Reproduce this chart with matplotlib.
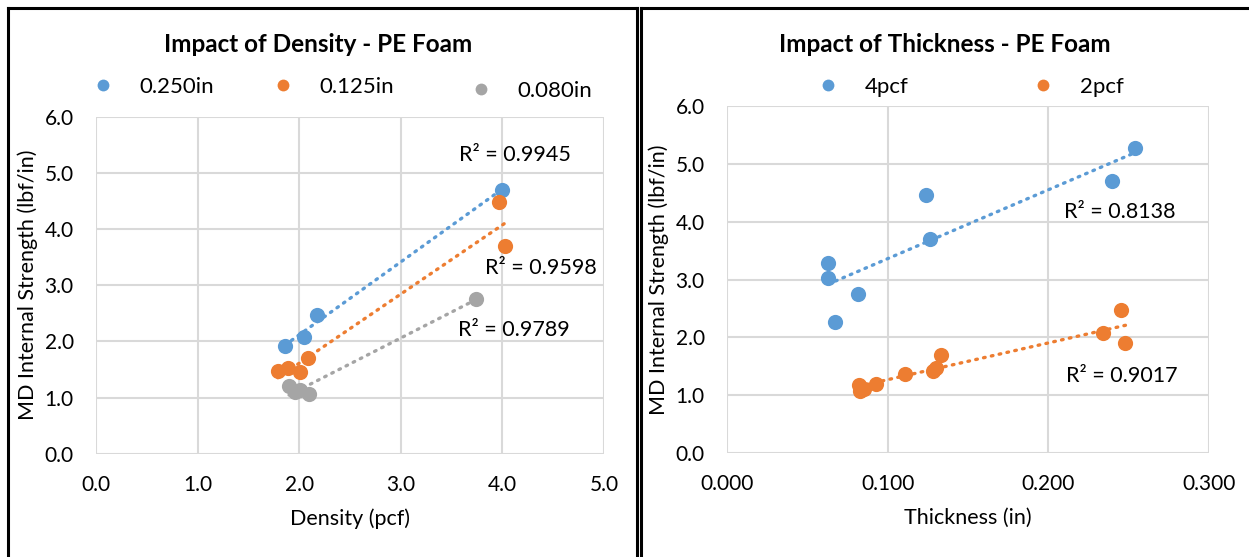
import numpy as np
import matplotlib.pyplot as plt
from matplotlib.lines import Line2D

plt.rcParams['font.family'] = ['Lato', 'DejaVu Sans']

BLUE = '#5B9BD5'
ORANGE = '#ED7D31'
GRAY = '#A5A5A5'

# left chart: density vs MD internal strength
dens_250 = [1.86, 2.05, 2.18, 4.00]
str_250 = [1.92, 2.08, 2.47, 4.70]
dens_125 = [1.79, 1.89, 2.01, 2.09, 3.97, 4.03]
str_125 = [1.47, 1.52, 1.45, 1.70, 4.47, 3.70]
dens_080 = [1.90, 1.96, 2.01, 2.10, 3.74]
str_080 = [1.20, 1.10, 1.13, 1.07, 2.76]
r2_left = ['R² = 0.9945', 'R² = 0.9598', 'R² = 0.9789']

# right chart: thickness vs MD internal strength
thk_4 = [0.063, 0.063, 0.067, 0.0815, 0.124, 0.1265, 0.2395, 0.254]
str_4 = [3.29, 3.03, 2.27, 2.76, 4.47, 3.71, 4.71, 5.27]
thk_2 = [0.082, 0.083, 0.085, 0.093, 0.111, 0.128, 0.130, 0.133, 0.234, 0.245, 0.248]
str_2 = [1.18, 1.07, 1.10, 1.20, 1.36, 1.42, 1.47, 1.70, 2.08, 2.47, 1.91]
r2_right = ['R² = 0.8138', 'R² = 0.9017']

W, H = 1249, 557
FS = 15.5
fig = plt.figure(figsize=(W / 100, H / 100), dpi=100)


def box(x0, x1, y0, y1):
    return [x0 / W, 1 - y1 / H, (x1 - x0) / W, (y1 - y0) / H]


def trend(ax, x, y, color):
    k, b = np.polyfit(x, y, 1)
    xs = np.array([min(x), max(x)])
    ax.plot(xs, k * xs + b, color=color, lw=2.4, linestyle=(0, (0.5, 1.9)),
            dash_capstyle='round', zorder=2)


def style(ax):
    ax.grid(True, color='#d9d9d9', lw=1.5)
    ax.set_axisbelow(True)
    for s in ax.spines.values():
        s.set_visible(False)
    ax.tick_params(length=0, labelsize=15)
    ax.tick_params(axis='x', pad=15)
    ax.tick_params(axis='y', pad=16)


def legend_item(color, label, xm, ym):
    # one legend entry, marker centred at pixel (xm, ym)
    h = Line2D([], [], marker='o', ls='', ms=8.5, color=color, mew=0)
    fs_px = 16 * 100 / 72
    fig.legend([h], [label], frameon=False, loc='center left', fontsize=16,
               bbox_to_anchor=((xm - 0.4 * fs_px) / W, 1 - ym / H),
               borderpad=0, borderaxespad=0, handlelength=0.8,
               handletextpad=1.25)


axL = fig.add_axes(box(96, 604, 116.5, 453.7))
axR = fig.add_axes(box(727, 1209, 106.3, 453))

for x, y, c in [(dens_250, str_250, BLUE),
                (dens_125, str_125, ORANGE),
                (dens_080, str_080, GRAY)]:
    trend(axL, x, y, c)
    axL.scatter(x, y, s=120, color=c, zorder=3, linewidths=0)

axL.set_xlim(0, 5)
axL.set_ylim(0, 6)
axL.set_xticks(np.arange(0, 5.1, 1))
axL.set_yticks(np.arange(0, 6.1, 1))
axL.xaxis.set_major_formatter(lambda v, p: f'{v:.1f}')
axL.yaxis.set_major_formatter(lambda v, p: f'{v:.1f}')
style(axL)
axL.set_xlabel('Density (pcf)', fontsize=FS, labelpad=10)
axL.set_ylabel('MD Internal Strength (lbf/in)', fontsize=FS, labelpad=5)
axL.text(4.12, 5.31, r2_left[0], fontsize=FS, ha='center', va='center')
axL.text(4.38, 3.30, r2_left[1], fontsize=FS, ha='center', va='center')
axL.text(4.11, 2.20, r2_left[2], fontsize=FS, ha='center', va='center')

for x, y, c in [(thk_4, str_4, BLUE),
                (thk_2, str_2, ORANGE)]:
    trend(axR, x, y, c)
    axR.scatter(x, y, s=120, color=c, zorder=3, linewidths=0)

axR.set_xlim(0, 0.3)
axR.set_ylim(0, 6)
axR.set_xticks(np.arange(0, 0.31, 0.1))
axR.set_yticks(np.arange(0, 6.1, 1))
axR.xaxis.set_major_formatter(lambda v, p: f'{v:.3f}')
axR.yaxis.set_major_formatter(lambda v, p: f'{v:.1f}')
style(axR)
axR.set_xlabel('Thickness (in)', fontsize=FS, labelpad=10)
axR.set_ylabel('MD Internal Strength (lbf/in)', fontsize=FS, labelpad=5)
axR.text(0.2446, 4.17, r2_right[0], fontsize=FS, ha='center', va='center')
axR.text(0.2458, 1.33, r2_right[1], fontsize=FS, ha='center', va='center')

fig.text(318 / W, 1 - 45 / H, 'Impact of Density - PE Foam', fontsize=17.5,
         fontweight='bold', ha='center', va='center')
fig.text(945 / W, 1 - 45 / H, 'Impact of Thickness - PE Foam', fontsize=17.5,
         fontweight='bold', ha='center', va='center')

legend_item(BLUE, '0.250in', 103, 87)
legend_item(ORANGE, '0.125in', 283, 87)
legend_item(GRAY, '0.080in', 481, 91)
legend_item(BLUE, '4pcf', 828, 87)
legend_item(ORANGE, '2pcf', 1043, 87)

# panel borders
for xs, ys in [([8, 8], [8, 560]), ([8, 637], [8, 8]), ([637, 637], [8, 560]),
               ([641, 641], [8, 560]), ([641, 1252], [8, 8])]:
    fig.add_artist(Line2D([x / W for x in xs], [1 - y / H for y in ys],
                          color='black', lw=2.2, transform=fig.transFigure))

fig.savefig('out.png', dpi=100)
